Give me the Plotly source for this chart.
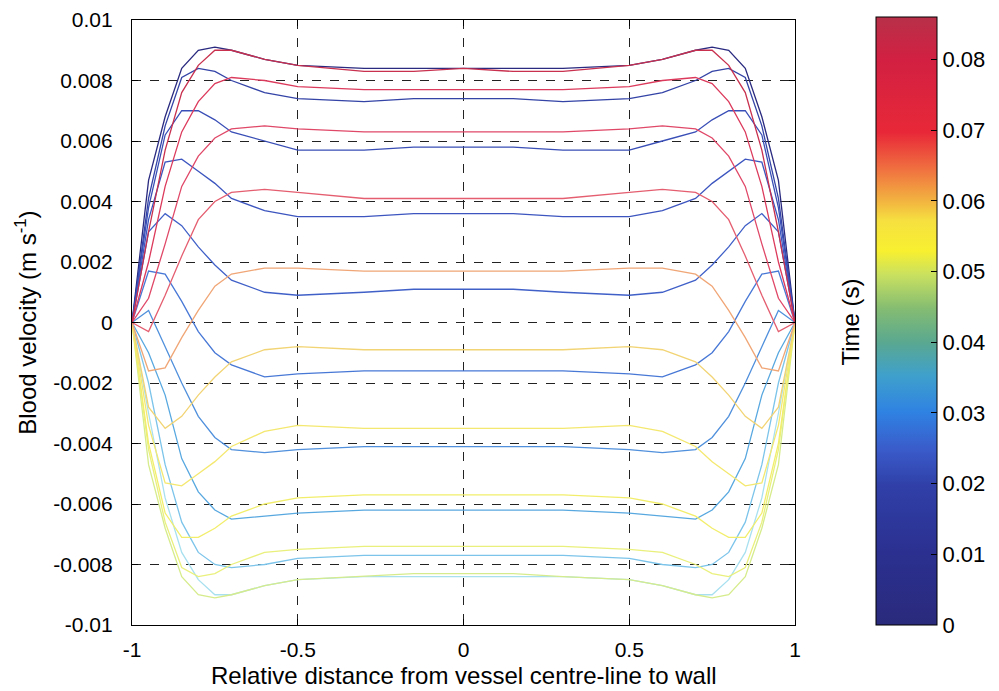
import plotly.graph_objects as go

# Relative radial position
X = [-1, -0.95, -0.9, -0.85, -0.8, -0.75, -0.7, -0.6, -0.5, -0.3, -0.15, 0,
     0.15, 0.3, 0.5, 0.6, 0.7, 0.75, 0.8, 0.85, 0.9, 0.95, 1]

# Time of each profile (s)
TIMES = [0.0, 0.0045, 0.009, 0.0135, 0.018, 0.0225, 0.027, 0.0315, 0.036, 0.0405,
         0.045, 0.0495, 0.054, 0.0585, 0.063, 0.0675, 0.072, 0.0765, 0.081, 0.0855]

c00 = [0, .0047, .0068, .0084, .0090, .0091, .0090, .0087, .0085, .0084, .0084, .0084,
       .0084, .0084, .0085, .0087, .0090, .0091, .0090, .0084, .0068, .0047, 0]
c01 = [0, .0041, .0065, .0081, .0084, .0083, .0080, .0076, .0074, .0073, .0074, .0074,
       .0074, .0073, .0074, .0076, .0080, .0083, .0084, .0081, .0065, .0041, 0]
c02 = [0, .0038, .0062, .0070, .0070, .0067, .0063, .0060, .0057, .0057, .0058, .0058,
       .0058, .0057, .0057, .0060, .0063, .0067, .0070, .0070, .0062, .0038, 0]
c03 = [0, .0034, .0053, .0054, .0050, .0046, .0041, .0037, .0035, .0035, .0036, .0036,
       .0036, .0035, .0035, .0037, .0041, .0046, .0050, .0054, .0053, .0034, 0]
c04 = [0, .0030, .0036, .0032, .0025, .0019, .0014, .0010, .0009, .0010, .0011, .0011,
       .0011, .0010, .0009, .0010, .0014, .0019, .0025, .0032, .0036, .0030, 0]
c05 = [0, .0017, .0016, .0007, -.0003, -.0010, -.0014, -.0018, -.0017, -.0016, -.0016, -.0016,
       -.0016, -.0016, -.0017, -.0018, -.0014, -.0010, -.0003, .0007, .0016, .0017, 0]
c06 = [0, .0004, -.0008, -.0020, -.0031, -.0038, -.0042, -.0043, -.0042, -.0041, -.0041, -.0041,
       -.0041, -.0041, -.0042, -.0043, -.0042, -.0038, -.0031, -.0020, -.0008, .0004, 0]
c07 = [0, -.0010, -.0024, -.0045, -.0056, -.0062, -.0065, -.0064, -.0063, -.0062, -.0062, -.0062,
       -.0062, -.0062, -.0063, -.0064, -.0065, -.0062, -.0056, -.0045, -.0024, -.0010, 0]
c08 = [0, -.0020, -.0047, -.0066, -.0076, -.0080, -.0081, -.0080, -.0078, -.0077, -.0077, -.0077,
       -.0077, -.0077, -.0078, -.0080, -.0081, -.0080, -.0076, -.0066, -.0047, -.0020, 0]
c09 = [0, -.0030, -.0058, -.0076, -.0085, -.0090, -.0090, -.0087, -.0085, -.0084, -.0084, -.0084,
       -.0084, -.0084, -.0085, -.0087, -.0090, -.0090, -.0085, -.0076, -.0058, -.0030, 0]
c10 = [0, -.0047, -.0068, -.0084, -.0090, -.0091, -.0090, -.0087, -.0085, -.0084, -.0083, -.0083,
       -.0083, -.0084, -.0085, -.0087, -.0090, -.0091, -.0090, -.0084, -.0068, -.0047, 0]
c11 = [0, -.0042, -.0066, -.0081, -.0084, -.0083, -.0080, -.0076, -.0075, -.0074, -.0074, -.0074,
       -.0074, -.0074, -.0075, -.0076, -.0080, -.0083, -.0084, -.0081, -.0066, -.0042, 0]
c12 = [0, -.0040, -.0063, -.0071, -.0071, -.0068, -.0064, -.0060, -.0058, -.0057, -.0057, -.0057,
       -.0057, -.0057, -.0058, -.0060, -.0064, -.0068, -.0071, -.0071, -.0063, -.0040, 0]
c13 = [0, -.0034, -.0053, -.0054, -.0050, -.0046, -.0041, -.0036, -.0034, -.0035, -.0035, -.0035,
       -.0035, -.0035, -.0034, -.0036, -.0041, -.0046, -.0050, -.0054, -.0053, -.0034, 0]
c14 = [0, -.0028, -.0035, -.0031, -.0024, -.0018, -.0013, -.0009, -.0008, -.0009, -.0009, -.0009,
       -.0009, -.0009, -.0008, -.0009, -.0013, -.0018, -.0024, -.0031, -.0035, -.0028, 0]
c15 = [0, -.0016, -.0015, -.0005, .0004, .0012, .0016, .0018, .0018, .0017, .0017, .0017,
       .0017, .0017, .0018, .0018, .0016, .0012, .0004, -.0005, -.0015, -.0016, 0]
c16 = [0, -.0003, .0009, .0022, .0034, .0040, .0043, .0044, .0043, .0041, .0041, .0041,
       .0041, .0041, .0043, .0044, .0043, .0040, .0034, .0022, .0009, -.0003, 0]
c17 = [0, .0008, .0026, .0045, .0055, .0061, .0064, .0065, .0064, .0063, .0063, .0063,
       .0063, .0063, .0064, .0065, .0064, .0061, .0055, .0045, .0026, .0008, 0]
c18 = [0, .0020, .0045, .0063, .0073, .0079, .0081, .0080, .0078, .0077, .0077, .0077,
       .0077, .0077, .0078, .0080, .0081, .0079, .0073, .0063, .0045, .0020, 0]
c19 = [0, .0030, .0057, .0076, .0085, .0090, .0090, .0087, .0085, .0083, .0083, .0084,
       .0083, .0083, .0085, .0087, .0090, .0090, .0085, .0076, .0057, .0030, 0]

PROFILES = [c00, c01, c02, c03, c04, c05, c06, c07, c08, c09,
            c10, c11, c12, c13, c14, c15, c16, c17, c18, c19]

# Line colours as they appear for each time step
LINE_COLORS = ["#2a2a80", "#3343a6", "#394eb6", "#3c55bf", "#4060c8", "#4878d6",
               "#5090dc", "#58a8e0", "#7cc4ea", "#a8e0f0", "#d6ec8c", "#eaf07c",
               "#f2ee6c", "#f4e870", "#f2d474", "#f0a676", "#e45e70", "#e04868",
               "#dc3a5c", "#c8304e"]

Y_TICKS = [0.01, 0.008, 0.006, 0.004, 0.002, 0, -0.002, -0.004, -0.006, -0.008, -0.01]
Y_TICKTEXT = ["0.01", "0.008", "0.006", "0.004", "0.002", "0", "-0.002", "-0.004",
              "-0.006", "-0.008", "-0.01"]
X_TICKS = [-1, -0.5, 0, 0.5, 1]
X_TICKTEXT = ["-1", "-0.5", "0", "0.5", "1"]
CB_TICKS = [0, 0.01, 0.02, 0.03, 0.04, 0.05, 0.06, 0.07, 0.08]
CB_TICKTEXT = ["0", "0.01", "0.02", "0.03", "0.04", "0.05", "0.06", "0.07", "0.08"]
T_MAX = 0.086

COLORSCALE = [
    [0.00, "#2a2a7c"],
    [0.12, "#2b3090"],
    [0.23, "#3040a8"],
    [0.29, "#3a5ccb"],
    [0.35, "#2f82e2"],
    [0.41, "#3fa0cc"],
    [0.465, "#5aa890"],
    [0.52, "#84bc72"],
    [0.575, "#c8e060"],
    [0.615, "#f8f030"],
    [0.665, "#f6e040"],
    [0.70, "#f2b040"],
    [0.75, "#f07040"],
    [0.81, "#e82838"],
    [0.93, "#d22042"],
    [1.00, "#b83048"],
]

FONT = "Liberation Sans, Arial, sans-serif"

fig = go.Figure()
for t, prof, col in zip(TIMES, PROFILES, LINE_COLORS):
    fig.add_trace(go.Scatter(x=X, y=prof, mode="lines", name=f"t = {t} s",
                             line=dict(color=col, width=1.3),
                             showlegend=False, hoverinfo="skip"))

# colorbar carrier
fig.add_trace(go.Scatter(
    x=[None], y=[None], mode="markers", showlegend=False,
    marker=dict(color=[0], cmin=0, cmax=T_MAX, colorscale=COLORSCALE, showscale=True,
                colorbar=dict(
                    thickness=61, thicknessmode="pixels",
                    len=608, lenmode="pixels",
                    x=1.122, xanchor="left", xpad=0,
                    y=0, yanchor="bottom", ypad=0,
                    outlinewidth=1, outlinecolor="black",
                    tickvals=CB_TICKS, ticktext=CB_TICKTEXT,
                    ticks="inside", ticklen=6, tickcolor="black",
                    tickfont=dict(family=FONT, size=22, color="black"),
                )),
))

axis_common = dict(
    showgrid=True, gridcolor="#222222", gridwidth=1, griddash="dash",
    zeroline=False, showline=True, linecolor="black", linewidth=1.2,
    mirror="ticks", ticks="inside", ticklen=6, tickcolor="black",
    tickfont=dict(family=FONT, size=21, color="black"),
    automargin=False,
)

fig.update_xaxes(range=[-1, 1], tickvals=X_TICKS, ticktext=X_TICKTEXT,
                 ticklabelstandoff=6, **axis_common)
fig.update_yaxes(range=[-0.01, 0.01], tickvals=Y_TICKS, ticktext=Y_TICKTEXT,
                 ticklabelstandoff=14, **axis_common)

fig.add_annotation(text="Blood velocity (m s<sup>-1</sup>)", xref="paper", yref="paper",
                   x=-0.161, y=0.5, xanchor="center", yanchor="middle",
                   textangle=-90, showarrow=False,
                   font=dict(family=FONT, size=24, color="black"))
fig.add_annotation(text="Relative distance from vessel centre-line to wall",
                   xref="paper", yref="paper", x=0.5, y=-0.084,
                   xanchor="center", yanchor="middle",
                   showarrow=False, font=dict(family=FONT, size=24, color="black"))
fig.add_annotation(text="Time (s)", xref="paper", yref="paper",
                   x=1.083, y=0.5, xanchor="center", yanchor="middle",
                   textangle=-90, showarrow=False,
                   font=dict(family=FONT, size=24, color="black"))

fig.update_layout(
    width=999, height=691,
    margin=dict(l=132, r=204, t=20, b=66, autoexpand=False),
    paper_bgcolor="white", plot_bgcolor="white",
    showlegend=False,
)

fig.write_html("out.html")
